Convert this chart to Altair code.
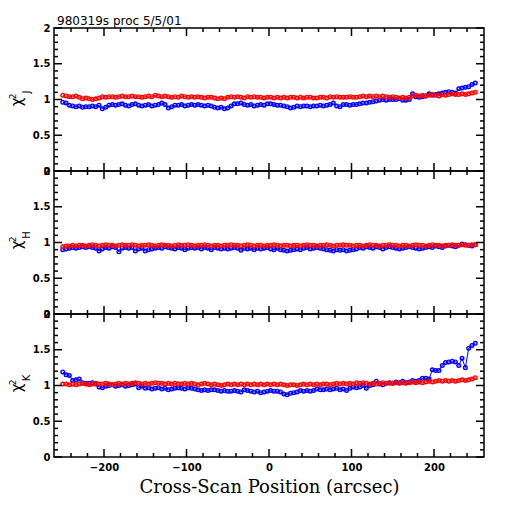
import altair as alt
import pandas as pd

x_pos = list(range(-250, 251, 4))

blue_J = [0.96, 0.95, 0.92, 0.91, 0.90, 0.91, 0.89, 0.90, 0.90, 0.91,
          0.90, 0.92, 0.87, 0.89, 0.92, 0.93, 0.92, 0.93, 0.94, 0.92,
          0.91, 0.93, 0.94, 0.92, 0.91, 0.92, 0.93, 0.91, 0.92, 0.93,
          0.95, 0.93, 0.88, 0.90, 0.92, 0.92, 0.93, 0.91, 0.92, 0.93,
          0.92, 0.93, 0.92, 0.91, 0.92, 0.91, 0.89, 0.88, 0.89, 0.87,
          0.88, 0.91, 0.94, 0.94, 0.95, 0.93, 0.92, 0.93, 0.91, 0.92,
          0.93, 0.92, 0.94, 0.94, 0.93, 0.92, 0.92, 0.91, 0.90, 0.88,
          0.89, 0.91, 0.90, 0.91, 0.91, 0.90, 0.91, 0.91, 0.92, 0.91,
          0.92, 0.93, 0.95, 0.91, 0.90, 0.93, 0.93, 0.92, 0.93, 0.93,
          0.94, 0.95, 0.95, 0.96, 0.97, 0.98, 0.99, 1.00, 0.99, 1.00,
          1.00, 1.00, 1.01, 0.99, 0.99, 1.00, 1.08, 1.04, 1.03, 1.04,
          1.05, 1.08, 1.06, 1.07, 1.08, 1.09, 1.10, 1.11, 1.10, 1.09,
          1.15, 1.16, 1.17, 1.18, 1.21, 1.23]
red_J = [1.06, 1.05, 1.04, 1.04, 1.05, 1.03, 1.01, 1.02, 1.01, 1.00,
         1.01, 1.02, 1.04, 1.03, 1.04, 1.04, 1.03, 1.04, 1.05, 1.04,
         1.04, 1.05, 1.04, 1.04, 1.03, 1.04, 1.05, 1.04, 1.06, 1.05,
         1.04, 1.05, 1.04, 1.03, 1.04, 1.03, 1.05, 1.04, 1.03, 1.04,
         1.03, 1.04, 1.03, 1.02, 1.03, 1.03, 1.02, 1.01, 1.02, 1.01,
         1.03, 1.04, 1.03, 1.04, 1.03, 1.02, 1.04, 1.03, 1.04, 1.03,
         1.03, 1.02, 1.03, 1.03, 1.02, 1.03, 1.02, 1.03, 1.02, 1.03,
         1.03, 1.02, 1.03, 1.02, 1.03, 1.03, 1.02, 1.02, 1.03, 1.03,
         1.02, 1.04, 1.03, 1.04, 1.03, 1.03, 1.03, 1.04, 1.03, 1.03,
         1.04, 1.05, 1.04, 1.05, 1.04, 1.05, 1.04, 1.05, 1.04, 1.03,
         1.04, 1.03, 1.02, 1.03, 1.02, 1.03, 1.05, 1.06, 1.05, 1.06,
         1.05, 1.06, 1.07, 1.06, 1.05, 1.07, 1.06, 1.07, 1.08, 1.07,
         1.07, 1.08, 1.07, 1.08, 1.09, 1.10]

blue_H = [0.90, 0.91, 0.92, 0.93, 0.92, 0.93, 0.94, 0.93, 0.94, 0.93,
          0.92, 0.88, 0.91, 0.93, 0.92, 0.94, 0.93, 0.87, 0.92, 0.93,
          0.92, 0.93, 0.88, 0.91, 0.92, 0.88, 0.90, 0.91, 0.92, 0.93,
          0.92, 0.94, 0.93, 0.92, 0.91, 0.93, 0.92, 0.90, 0.92, 0.93,
          0.92, 0.93, 0.91, 0.93, 0.92, 0.90, 0.93, 0.92, 0.91, 0.92,
          0.91, 0.92, 0.93, 0.92, 0.89, 0.92, 0.91, 0.92, 0.90, 0.92,
          0.91, 0.92, 0.93, 0.91, 0.90, 0.92, 0.90, 0.89, 0.88, 0.89,
          0.90, 0.91, 0.90, 0.92, 0.93, 0.91, 0.92, 0.93, 0.92, 0.91,
          0.90, 0.89, 0.88, 0.90, 0.89, 0.90, 0.88, 0.89, 0.90, 0.91,
          0.93, 0.92, 0.94, 0.93, 0.92, 0.94, 0.93, 0.91, 0.93, 0.94,
          0.93, 0.92, 0.91, 0.92, 0.93, 0.94, 0.93, 0.92, 0.91, 0.92,
          0.93, 0.94, 0.93, 0.95, 0.94, 0.93, 0.95, 0.96, 0.95, 0.94,
          0.96, 0.98, 0.97, 0.96, 0.95, 0.97]
red_H = [0.94, 0.95, 0.95, 0.96, 0.95, 0.96, 0.96, 0.95, 0.96, 0.97,
         0.96, 0.95, 0.96, 0.97, 0.96, 0.96, 0.95, 0.96, 0.97, 0.96,
         0.96, 0.97, 0.96, 0.95, 0.96, 0.96, 0.97, 0.96, 0.95, 0.96,
         0.97, 0.96, 0.96, 0.95, 0.96, 0.97, 0.96, 0.96, 0.97, 0.96,
         0.95, 0.96, 0.96, 0.97, 0.96, 0.95, 0.96, 0.96, 0.95, 0.96,
         0.96, 0.97, 0.96, 0.96, 0.95, 0.96, 0.97, 0.96, 0.95, 0.96,
         0.96, 0.95, 0.96, 0.96, 0.97, 0.96, 0.95, 0.96, 0.96, 0.95,
         0.96, 0.96, 0.95, 0.96, 0.97, 0.96, 0.96, 0.95, 0.96, 0.96,
         0.97, 0.96, 0.95, 0.96, 0.96, 0.97, 0.96, 0.96, 0.95, 0.96,
         0.96, 0.95, 0.96, 0.97, 0.96, 0.96, 0.95, 0.96, 0.96, 0.97,
         0.96, 0.96, 0.95, 0.96, 0.96, 0.95, 0.96, 0.97, 0.96, 0.96,
         0.95, 0.96, 0.97, 0.96, 0.96, 0.95, 0.96, 0.96, 0.97, 0.96,
         0.96, 0.97, 0.96, 0.96, 0.97, 0.97]

blue_K = [1.19, 1.15, 1.14, 1.07, 1.08, 1.09, 1.04, 1.03, 1.03, 1.04,
          1.02, 0.98, 0.97, 0.99, 1.00, 1.01, 0.99, 1.00, 1.01, 0.99,
          1.00, 1.01, 1.02, 0.97, 0.99, 0.96, 0.97, 0.95, 0.96, 0.97,
          0.95, 0.96, 0.94, 0.95, 0.96, 0.97, 0.96, 0.95, 0.97, 0.96,
          0.95, 0.94, 0.93, 0.94, 0.93, 0.94, 0.94, 0.93, 0.92, 0.93,
          0.92, 0.92, 0.93, 0.92, 0.91, 0.94, 0.93, 0.92, 0.91, 0.92,
          0.90, 0.91, 0.92, 0.93, 0.92, 0.92, 0.91, 0.88, 0.87, 0.89,
          0.90, 0.91, 0.93, 0.92, 0.93, 0.92, 0.93, 0.95, 0.94, 0.94,
          0.95, 0.94, 0.95, 0.96, 0.94, 0.95, 0.93, 0.96, 0.98, 0.97,
          0.98, 1.00, 0.96, 1.00, 1.01, 1.06, 1.02, 1.01, 1.03, 1.04,
          1.03, 1.05, 1.04, 1.06, 1.04, 1.05, 1.07, 1.06, 1.07, 1.10,
          1.10, 1.09, 1.22, 1.21, 1.21, 1.28, 1.32, 1.33, 1.34, 1.33,
          1.28, 1.38, 1.25, 1.52, 1.56, 1.59]
red_K = [1.02, 1.02, 1.01, 1.02, 1.01, 1.02, 1.03, 1.02, 1.01, 1.02,
         1.03, 1.02, 1.02, 1.03, 1.02, 1.01, 1.02, 1.03, 1.02, 1.03,
         1.02, 1.03, 1.04, 1.03, 1.02, 1.03, 1.02, 1.03, 1.04, 1.03,
         1.03, 1.02, 1.03, 1.02, 1.03, 1.02, 1.02, 1.03, 1.02, 1.03,
         1.02, 1.01, 1.02, 1.03, 1.02, 1.01, 1.02, 1.01, 1.00, 1.01,
         1.02, 1.01, 1.02, 1.01, 1.02, 1.01, 1.02, 1.01, 1.02, 1.01,
         1.02, 1.01, 1.02, 1.01, 1.02, 1.01, 1.02, 1.01, 1.00, 1.01,
         1.01, 1.00, 1.01, 1.02, 1.01, 1.02, 1.01, 1.02, 1.01, 1.02,
         1.02, 1.01, 1.02, 1.03, 1.02, 1.03, 1.02, 1.03, 1.02, 1.04,
         1.03, 1.04, 1.03, 1.02, 1.03, 1.02, 1.03, 1.04, 1.03, 1.03,
         1.03, 1.04, 1.03, 1.04, 1.03, 1.04, 1.05, 1.04, 1.05, 1.04,
         1.05, 1.06, 1.05, 1.06, 1.07, 1.06, 1.07, 1.06, 1.07, 1.06,
         1.07, 1.08, 1.07, 1.08, 1.09, 1.11]

x_major = [-200, -100, 0, 100, 200]
x_minor = [-240, -220, -180, -160, -140, -120, -80, -60, -40, -20,
           20, 40, 60, 80, 120, 140, 160, 180, 220, 240]
y_major = [0, 0.5, 1, 1.5, 2]
y_minor = [0.1, 0.2, 0.3, 0.4, 0.6, 0.7, 0.8, 0.9,
           1.1, 1.2, 1.3, 1.4, 1.6, 1.7, 1.8, 1.9]
title_text = "980319s proc 5/5/01"
x_title = "Cross-Scan Position (arcsec)"

W, H = 430, 143
xscale = alt.Scale(domain=[-260.6, 260.6], nice=False, zero=False)
yscale = alt.Scale(domain=[0, 2], nice=False, zero=False)
LAB_FONT = "DejaVu Sans"


def ticks_layers(xax, yax):
    xt_maj = alt.Chart(pd.DataFrame({"x": x_major}))
    xt_min = alt.Chart(pd.DataFrame({"x": x_minor}))
    yt_maj = alt.Chart(pd.DataFrame({"y": y_major}))
    yt_min = alt.Chart(pd.DataFrame({"y": y_minor}))
    out = []
    for base, ln in ((xt_maj, 8), (xt_min, 4)):
        xe = alt.X("x:Q", scale=xscale, axis=xax)
        out.append(base.mark_rule(color="black", strokeWidth=1.5).encode(
            x=xe, y=alt.value(H), y2=alt.value(H - ln)))
        out.append(base.mark_rule(color="black", strokeWidth=1.5).encode(
            x=xe, y=alt.value(0), y2=alt.value(ln)))
    for base, ln in ((yt_maj, 8), (yt_min, 4)):
        ye = alt.Y("y:Q", scale=yscale, axis=yax)
        out.append(base.mark_rule(color="black", strokeWidth=1.5).encode(
            y=ye, x=alt.value(0), x2=alt.value(ln)))
        out.append(base.mark_rule(color="black", strokeWidth=1.5).encode(
            y=ye, x=alt.value(W), x2=alt.value(W - ln)))
    return out


def panel(blue, red, band, bottom, top):
    if bottom:
        xax = alt.Axis(values=x_major, ticks=False, domain=False, grid=False,
                       labelFont=LAB_FONT, labelFontSize=10, labelFontWeight="bold",
                       labelColor="black", labelPadding=5, labelFlush=False,
                       title=x_title, titleFont="DejaVu Serif", titleFontSize=18,
                       titleFontWeight="normal", titleColor="black", titlePadding=6)
    else:
        xax = None
    yax = alt.Axis(values=y_major, ticks=False, domain=False, grid=False,
                   labelFont=LAB_FONT, labelFontSize=10, labelFontWeight="bold",
                   labelColor="black", labelPadding=4, labelOverlap=False,
                   format="~g", title=None)
    df_b = pd.DataFrame({"x": x_pos, "y": blue})
    df_r = pd.DataFrame({"x": x_pos, "y": red})
    enc = dict(x=alt.X("x:Q", scale=xscale, axis=xax),
               y=alt.Y("y:Q", scale=yscale, axis=yax))
    layers = [
        alt.Chart(df_b).mark_line(color="#0000ff", strokeWidth=1).encode(**enc),
        alt.Chart(df_b).mark_point(color="#0000ff", shape="circle", filled=False,
                                   size=13, strokeWidth=1.4, opacity=1).encode(**enc),
        alt.Chart(df_r).mark_line(color="#ff0000", strokeWidth=1).encode(**enc),
        alt.Chart(df_r).mark_point(color="#ff0000", shape="circle", filled=False,
                                   size=13, strokeWidth=1.4, opacity=1).encode(**enc),
    ]
    layers += ticks_layers(xax, yax)
    lab = alt.Chart(pd.DataFrame({"k": [0]}))
    layers.append(lab.mark_text(font="DejaVu Sans", fontSize=15, angle=270,
                                align="center", baseline="middle", color="black").encode(
        x=alt.value(-37), y=alt.value(74), text=alt.value("χ")))
    layers.append(lab.mark_text(font="DejaVu Sans", fontSize=9, angle=270,
                                align="center", baseline="middle", color="black").encode(
        x=alt.value(-41), y=alt.value(68.5), text=alt.value("2")))
    layers.append(lab.mark_text(font="DejaVu Sans", fontSize=10, angle=270,
                                align="center", baseline="middle", color="black").encode(
        x=alt.value(-27), y=alt.value(64), text=alt.value(band)))
    if top:
        layers.append(lab.mark_text(font="DejaVu Sans", fontSize=12, align="left",
                                    baseline="alphabetic", color="black").encode(
            x=alt.value(3), y=alt.value(-3.5), text=alt.value(title_text)))
    return alt.layer(*layers).properties(width=W, height=H)


p1 = panel(blue_J, red_J, "J", False, True)
p2 = panel(blue_H, red_H, "H", False, False)
p3 = panel(blue_K, red_K, "K", True, False)

chart = alt.vconcat(p1, p2, p3, spacing=0, bounds="flush").properties(
    padding={"left": 0, "top": 5, "right": 5, "bottom": 5}
).configure_view(stroke="black", strokeWidth=1.5)

chart.save("out.html", embed_options={"renderer": "svg", "actions": False})
